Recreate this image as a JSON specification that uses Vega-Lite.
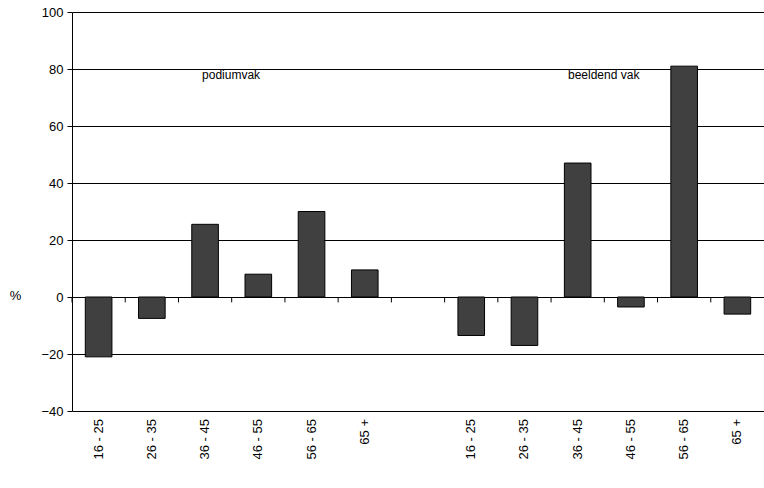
{
  "$schema": "https://vega.github.io/schema/vega-lite/v6.json",
  "width": 692,
  "height": 399,
  "autosize": "none",
  "padding": {"left": 72, "top": 12, "right": 0, "bottom": 77},
  "datasets": {
    "bars": [
      {"groep": "16 - 25", "pct": -21},
      {"groep": "26 - 35", "pct": -7.5},
      {"groep": "36 - 45", "pct": 25.5},
      {"groep": "46 - 55", "pct": 8},
      {"groep": "56 - 65", "pct": 30},
      {"groep": "65 +", "pct": 9.5},
      {"groep": "16 - 25 ", "pct": -13.5},
      {"groep": "26 - 35 ", "pct": -17},
      {"groep": "36 - 45 ", "pct": 47},
      {"groep": "46 - 55 ", "pct": -3.5},
      {"groep": "56 - 65 ", "pct": 81},
      {"groep": "65 + ", "pct": -6}
    ],
    "ticks": [
      {"groep": "16 - 25"}, {"groep": "26 - 35"}, {"groep": "36 - 45"}, {"groep": "46 - 55"},
      {"groep": "56 - 65"}, {"groep": "65 +"}, {"groep": "  "}, {"groep": "16 - 25 "},
      {"groep": "26 - 35 "}, {"groep": "36 - 45 "}, {"groep": "46 - 55 "}, {"groep": "56 - 65 "},
      {"groep": "65 + "}
    ],
    "labels": [
      {"groep": "36 - 45", "pct": 78, "tekst": "podiumvak"},
      {"groep": "36 - 45 ", "pct": 78, "tekst": "beeldend vak"}
    ]
  },
  "config": {
    "view": {"stroke": null},
    "font": "Liberation Sans",
    "axis": {"labelFont": "Liberation Sans", "titleFont": "Liberation Sans", "labelFontSize": 13, "labelColor": "black", "domainColor": "black", "tickColor": "black"}
  },
  "layer": [
    {
      "data": {"name": "bars"},
      "mark": {"type": "bar", "color": "#404040", "stroke": "black", "strokeWidth": 1},
      "encoding": {
        "x": {
          "field": "groep", "type": "nominal", "sort": null,
          "scale": {"domain": ["16 - 25", "26 - 35", "36 - 45", "46 - 55", "56 - 65", "65 +", "  ", "16 - 25 ", "26 - 35 ", "36 - 45 ", "46 - 55 ", "56 - 65 ", "65 + "], "paddingInner": 0.5, "paddingOuter": 0.25},
          "axis": null
        },
        "y": {
          "field": "pct", "type": "quantitative",
          "scale": {"domain": [-40, 100], "nice": false},
          "axis": {"values": [-40, -20, 0, 20, 40, 60, 80, 100], "title": "%", "titleAngle": 0, "titleFontSize": 13, "titleFontWeight": "normal", "titleX": -57, "titleY": 290, "gridColor": "black", "gridOpacity": 1, "ticks": true, "tickSize": 5, "labelPadding": 4}
        }
      }
    },
    {
      "data": {"name": "ticks"},
      "mark": {"type": "rule", "color": "black"},
      "encoding": {
        "x": {"field": "groep", "type": "nominal", "sort": null, "bandPosition": -0.5},
        "y": {"datum": 0, "type": "quantitative"},
        "y2": {"datum": -1.9}
      }
    },
    {
      "data": {"name": "bars"},
      "mark": {"type": "text", "angle": 270, "align": "right", "baseline": "middle", "dx": -8, "fontSize": 13, "font": "Liberation Sans"},
      "encoding": {
        "x": {"field": "groep", "type": "nominal", "sort": null},
        "y": {"datum": -40, "type": "quantitative"},
        "text": {"field": "groep"}
      }
    },
    {
      "data": {"name": "labels"},
      "mark": {"type": "text", "fontSize": 12, "dx": 26, "font": "Liberation Sans"},
      "encoding": {
        "x": {"field": "groep", "type": "nominal", "sort": null},
        "y": {"field": "pct", "type": "quantitative"},
        "text": {"field": "tekst"}
      }
    }
  ]
}
